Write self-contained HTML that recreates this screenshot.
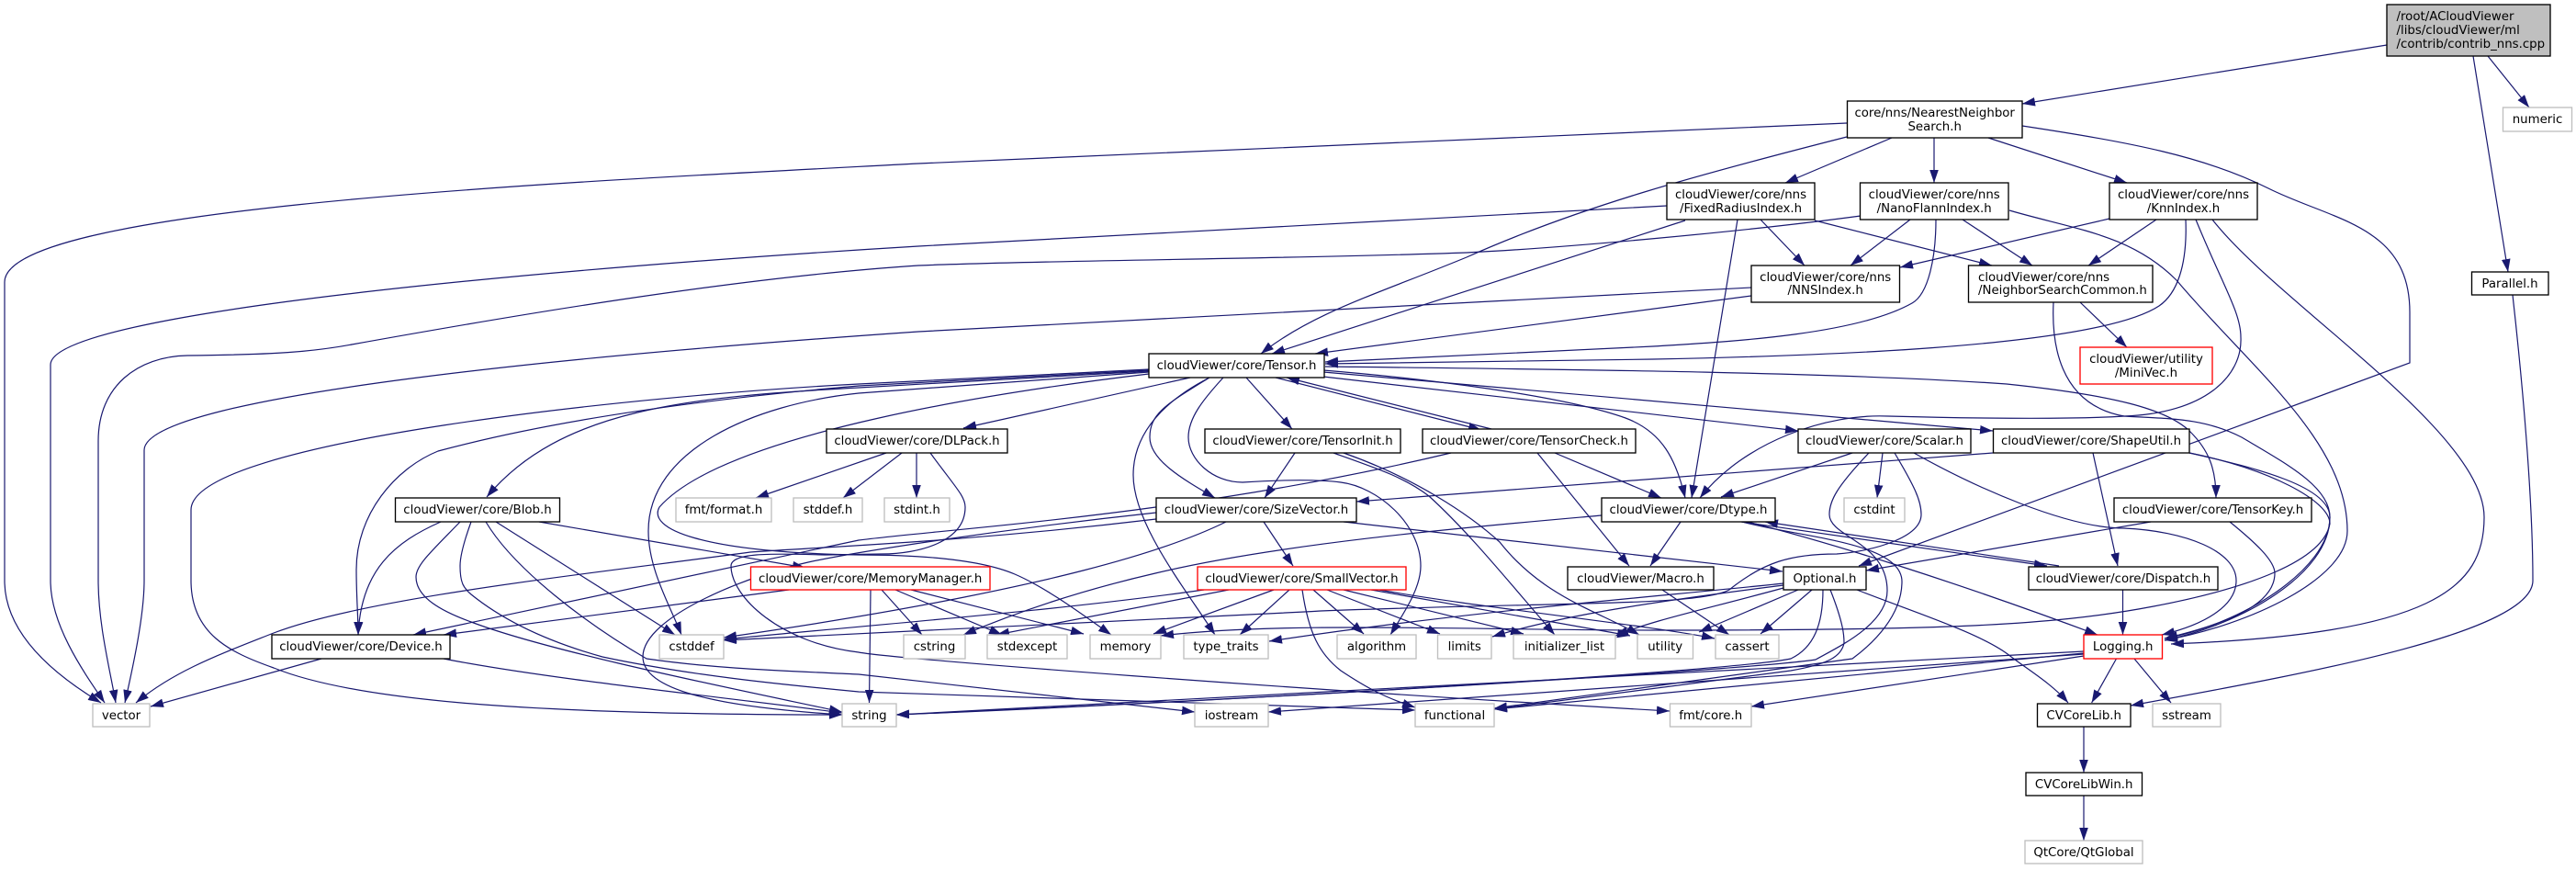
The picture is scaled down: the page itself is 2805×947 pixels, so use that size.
<!DOCTYPE html>
<html><head><meta charset="utf-8"><title>Include graph</title>
<style>
html,body{margin:0;padding:0;background:#fff;width:2805px;height:947px;overflow:hidden}
svg{display:block}
text{font-family:"DejaVu Sans",sans-serif;font-size:13.33px;fill:#000;text-anchor:middle}
text.l{text-anchor:start}
#e path{fill:none;stroke:#191970;stroke-width:1.2;marker-end:url(#a)}
rect{stroke-width:1.33;fill:#fff}
rect.b{stroke:#000}
rect.g{stroke:#bfbfbf}
rect.r{stroke:#f00}
</style></head><body>
<svg width="2805" height="947" viewBox="0 0 2805 947" xmlns="http://www.w3.org/2000/svg">
<defs><marker id="a" markerUnits="userSpaceOnUse" markerWidth="14" markerHeight="10" viewBox="0 0 14 10" refX="14" refY="5" orient="auto"><path d="M0,0.2L14,5L0,9.8z" fill="#191970"/></marker></defs>
<g id="e">
<path d="M2599,49L2202,113"/>
<path d="M2709,61L2754,117"/>
<path d="M2693,61L2731,296"/>
<path d="M2736,321C2746,410 2758,540 2758,632C2758,690 2500,735 2320,768"/>
<path d="M2011,134L1000,178C620,198 5,225 5,307L5,632C5,690 60,735 110,765"/>
<path d="M1815,224L1000,268C600,292 55,340 55,397L55,632C55,680 90,730 114,765"/>
<path d="M2026,235C1900,252 1700,270 1597,275C1400,282 1150,283 1000,289C800,302 550,345 383,375C340,383 300,386 204,387C150,388 107,420 107,480L107,632C107,680 120,730 126,765"/>
<path d="M1907,313L1000,361C650,385 157,430 157,490L157,632C157,670 145,725 136,765"/>
<path d="M1251,402L935,418C700,430 208,480 208,555L208,632C208,690 250,710 298,727C380,760 550,778 917,778"/>
<path d="M1251,403L935,420C760,435 600,458 477,491C430,510 388,560 388,620C388,650 390,670 390,691"/>
<path d="M1251,404L935,422C750,432 610,445 530,541"/>
<path d="M1251,405L935,428C820,440 706,490 706,578C706,620 730,660 742,691"/>
<path d="M1251,407C1100,425 790,470 718,552C705,575 760,601 935,604C1010,604 1070,610 1105,625C1140,640 1180,670 1210,691"/>
<path d="M1296,411L1049,466"/>
<path d="M1317,411C1270,435 1234,470 1234,517C1234,570 1290,640 1323,691"/>
<path d="M1317,411C1270,440 1252,450 1252,476C1252,500 1285,520 1323,542"/>
<path d="M1332,411C1310,435 1294,455 1294,476C1294,500 1320,525 1353,525C1400,522 1437,522 1460,525C1500,530 1547,570 1547,616C1547,640 1530,665 1514,691"/>
<path d="M1357,411L1407,467"/>
<path d="M1389,411L1613,468"/>
<path d="M1624,467L1401,411"/>
<path d="M1441,403C1550,412 1700,430 1770,455C1810,470 1825,500 1835,542"/>
<path d="M1441,410L1958,469"/>
<path d="M1441,405L2170,469"/>
<path d="M1443,399C1700,402 2000,405 2185,418C2300,430 2360,445 2385,470C2405,490 2413,510 2413,542"/>
<path d="M1907,322L1432,385"/>
<path d="M1835,240L1385,385"/>
<path d="M2011,149C1850,190 1720,225 1597,280C1500,320 1430,340 1373,385"/>
<path d="M2108,239C2108,280 2100,320 2082,330C2020,365 1880,372 1800,377L1443,394"/>
<path d="M2380,239C2382,290 2370,320 2351,333C2280,380 1950,388 1800,391L1443,396"/>
<path d="M2202,137C2320,155 2400,170 2470,205C2540,240 2624,245 2624,340L2624,395L2024,616"/>
<path d="M2060,150L1944,199"/>
<path d="M2106,150L2106,199"/>
<path d="M2165,150L2316,199"/>
<path d="M1917,239L1965,289"/>
<path d="M1976,240L2169,289"/>
<path d="M1892,239L1842,542"/>
<path d="M2080,239L2015,289"/>
<path d="M2137,239L2213,289"/>
<path d="M2297,238L2069,291"/>
<path d="M2348,239L2274,289"/>
<path d="M2265,329L2316,378"/>
<path d="M2236,329C2234,370 2240,440 2313,453C2365,456 2400,455 2441,476C2490,505 2537,530 2537,563C2537,620 2440,680 2357,695"/>
<path d="M2391,239C2420,310 2440,340 2440,367C2442,410 2400,450 2313,453C2250,457 2130,455 2056,453C1990,450 1900,480 1851,542"/>
<path d="M2188,229C2260,250 2320,255 2370,305C2450,400 2556,480 2556,578C2556,630 2450,680 2357,697"/>
<path d="M2409,239C2480,330 2705,470 2705,563C2705,640 2650,690 2364,701"/>
<path d="M2279,493L2306,616"/>
<path d="M2384,493C2460,510 2537,530 2537,563C2537,625 2440,680 2357,697"/>
<path d="M2384,493C2470,510 2537,545 2537,570C2530,610 2450,640 2345,660C2230,682 2100,686 1800,686C1600,686 1400,676 1264,692"/>
<path d="M2170,493L1477,546"/>
<path d="M2342,568L2032,621"/>
<path d="M2428,568C2455,590 2477,610 2477,624C2477,660 2420,680 2357,695"/>
<path d="M2311.5,642L2311.5,691"/>
<path d="M2242,616L1922,568"/>
<path d="M1896,568L2229,616"/>
<path d="M1903,568C1990,590 2120,630 2284,691"/>
<path d="M1830,568L1797,616"/>
<path d="M1744,561C1620,572 1400,590 1258,624C1180,642 1110,665 1049,691"/>
<path d="M1897,568C1960,585 2071,590 2071,633C2071,670 2040,700 2017,717L1627,771"/>
<path d="M2017,493L1874,541"/>
<path d="M2050,493L2044,542"/>
<path d="M2084,493C2150,530 2250,575 2313,575C2380,578 2435,600 2435,632C2435,660 2400,680 2354,691"/>
<path d="M2035,493C2000,530 1992,545 1992,560C1992,585 2055,590 2055,643C2055,680 2000,705 1977,718C1900,730 1300,765 976,778"/>
<path d="M2063,493C2085,530 2092,545 2092,560C2092,585 2040,600 2000,603C1950,603 1920,612 1883,642C1850,660 1700,655 1438,665C1359,670 1300,672 788,697"/>
<path d="M2022,642C2080,665 2160,690 2190,715C2210,730 2235,745 2252,765"/>
<path d="M1973,642L1917,690"/>
<path d="M1958,642L1850,688"/>
<path d="M1942,640C1850,665 1800,675 1759,692"/>
<path d="M1942,637C1800,655 1700,670 1625,693"/>
<path d="M1942,635C1800,650 1600,665 1382,698"/>
<path d="M1985,642C1985,680 1975,705 1950,717C1900,728 1500,755 976,778"/>
<path d="M1993,642C2008,680 2008,693 2008,700C2005,715 1990,723 1950,730L1627,772"/>
<path d="M1810,642L1883,691"/>
<path d="M1463,568L1941,622"/>
<path d="M1376,568L1408,616"/>
<path d="M1335,568C1250,610 1100,640 1050,650C950,670 850,685 788,694"/>
<path d="M1259,565C1050,590 900,595 817,601C640,625 400,650 298,689C240,712 190,730 148,765"/>
<path d="M1259,558C1100,575 935,600 880,612C820,625 700,670 700,715C700,750 775,769 917,778"/>
<path d="M1580,493C1300,560 1037,575 935,588L450,691"/>
<path d="M1410,493L1377,542"/>
<path d="M1452,493C1500,510 1530,520 1556,540C1600,580 1640,630 1693,691"/>
<path d="M1463,493C1540,520 1600,560 1633,590C1680,650 1740,665 1785,691"/>
<path d="M1674,493L1774,616"/>
<path d="M1693,493L1809,542"/>
<path d="M1387,642L1256,690"/>
<path d="M1404,642L1350,691"/>
<path d="M1418,642C1425,690 1437,712 1460,730C1490,750 1510,760 1541,770"/>
<path d="M1430,642L1485,690"/>
<path d="M1445,642L1568,690"/>
<path d="M1463,642L1659,690"/>
<path d="M1493,642L1775,692"/>
<path d="M1502,642C1600,660 1800,681 1867,695"/>
<path d="M1338,642L1085,691"/>
<path d="M1311,642C1150,665 950,680 788,696"/>
<path d="M948,642L946.5,765"/>
<path d="M960,642L1004,691"/>
<path d="M975,642L1091,691"/>
<path d="M992,642L1180,690"/>
<path d="M859,642L483,691"/>
<path d="M965,493L823,542"/>
<path d="M982,493L918,542"/>
<path d="M998,493L998,542"/>
<path d="M1013,493C1040,530 1051,540 1051,552C1051,590 1000,603 960,603L900,604C850,603 796,600 796,616C796,650 850,700 935,710C970,717 1400,750 1818,774"/>
<path d="M480,568C430,590 393,620 390,691"/>
<path d="M587,568L877,618"/>
<path d="M540,568L735,691"/>
<path d="M501,568C470,600 453,615 453,628C453,650 480,665 513,677C600,710 800,750 917,775"/>
<path d="M513,568C505,590 501,605 501,616C501,635 505,640 513,647C560,685 620,705 656,715C750,735 850,745 935,753L1541,773"/>
<path d="M529,568C560,620 640,680 704,717C780,728 850,730 935,734L1301,775"/>
<path d="M483,717C600,740 800,760 917,776"/>
<path d="M350,717L164,769"/>
<path d="M2269,709L976,778"/>
<path d="M2269,711L1627,772"/>
<path d="M2269,712L1381,775"/>
<path d="M2269,714L1907,769"/>
<path d="M2304.5,717L2277.6,765"/>
<path d="M2324,717L2364,765"/>
<path d="M2269,791L2269,841"/>
<path d="M2269,866L2269,915"/>
</g>
<g>
<rect class="b" x="2599" y="5" width="178" height="56" style="fill:#bfbfbf"/>
<text class="l" x="2609.5" y="22">/root/ACloudViewer</text><text class="l" x="2609.5" y="37">/libs/cloudViewer/ml</text><text class="l" x="2609.5" y="52">/contrib/contrib_nns.cpp</text>
<rect class="b" x="2011.5" y="110" width="190.5" height="40"/>
<text x="2106.7" y="127">core/nns/NearestNeighbor</text><text x="2106.7" y="142">Search.h</text>
<rect class="g" x="2725.5" y="117" width="75" height="26"/><text x="2763" y="134">numeric</text>
<rect class="b" x="1815" y="199" width="161" height="40"/>
<text x="1895.5" y="216">cloudViewer/core/nns</text><text x="1895.5" y="231">/FixedRadiusIndex.h</text>
<rect class="b" x="2025.5" y="199" width="161.5" height="40"/>
<text x="2106.2" y="216">cloudViewer/core/nns</text><text x="2106.2" y="231">/NanoFlannIndex.h</text>
<rect class="b" x="2297" y="199" width="161" height="40"/>
<text x="2377.5" y="216">cloudViewer/core/nns</text><text x="2377.5" y="231">/KnnIndex.h</text>
<rect class="b" x="1907" y="289" width="161.5" height="40"/>
<text x="1987.7" y="306">cloudViewer/core/nns</text><text x="1987.7" y="320">/NNSIndex.h</text>
<rect class="b" x="2143.5" y="289" width="200.5" height="40"/>
<text class="l" x="2154" y="306">cloudViewer/core/nns</text><text class="l" x="2154" y="320">/NeighborSearchCommon.h</text>
<rect class="b" x="2691.5" y="296" width="83.5" height="25"/><text x="2733" y="313">Parallel.h</text>
<rect class="r" x="2265" y="378" width="144" height="40"/>
<text x="2337" y="395">cloudViewer/utility</text><text x="2337" y="410">/MiniVec.h</text>
<rect class="b" x="1251" y="385" width="191" height="26"/><text x="1346.5" y="402">cloudViewer/core/Tensor.h</text>
<rect class="b" x="900" y="467" width="197" height="26"/><text x="998.5" y="484">cloudViewer/core/DLPack.h</text>
<rect class="b" x="1312" y="467" width="213" height="26"/><text x="1418.5" y="484">cloudViewer/core/TensorInit.h</text>
<rect class="b" x="1549" y="467" width="232" height="26"/><text x="1665" y="484">cloudViewer/core/TensorCheck.h</text>
<rect class="b" x="1958" y="467" width="188" height="26"/><text x="2052" y="484">cloudViewer/core/Scalar.h</text>
<rect class="b" x="2170.5" y="467" width="213.5" height="26"/><text x="2277" y="484">cloudViewer/core/ShapeUtil.h</text>
<rect class="b" x="430.5" y="542" width="179" height="26"/><text x="520" y="559">cloudViewer/core/Blob.h</text>
<rect class="g" x="736" y="542" width="104" height="26"/><text x="788" y="559">fmt/format.h</text>
<rect class="g" x="864" y="542" width="75" height="26"/><text x="901.5" y="559">stddef.h</text>
<rect class="g" x="963" y="542" width="71" height="26"/><text x="998.5" y="559">stdint.h</text>
<rect class="b" x="1259" y="542" width="218" height="26"/><text x="1368" y="559">cloudViewer/core/SizeVector.h</text>
<rect class="b" x="1744" y="542" width="189" height="26"/><text x="1838.5" y="559">cloudViewer/core/Dtype.h</text>
<rect class="g" x="2008" y="542" width="66" height="26"/><text x="2041" y="559">cstdint</text>
<rect class="b" x="2302" y="542" width="215" height="26"/><text x="2409.5" y="559">cloudViewer/core/TensorKey.h</text>
<rect class="r" x="817.5" y="617" width="260.5" height="25"/><text x="947.7" y="634">cloudViewer/core/MemoryManager.h</text>
<rect class="r" x="1304" y="617" width="227" height="25"/><text x="1417.5" y="634">cloudViewer/core/SmallVector.h</text>
<rect class="b" x="1707" y="617" width="159" height="25"/><text x="1786.5" y="634">cloudViewer/Macro.h</text>
<rect class="b" x="1942" y="617" width="90" height="25"/><text x="1987" y="634">Optional.h</text>
<rect class="b" x="2209" y="617" width="206" height="25"/><text x="2312" y="634">cloudViewer/core/Dispatch.h</text>
<rect class="b" x="296" y="691" width="194" height="26"/><text x="393" y="708">cloudViewer/core/Device.h</text>
<rect class="g" x="718" y="691" width="70" height="26"/><text x="753" y="708">cstddef</text>
<rect class="g" x="984" y="691" width="67" height="26"/><text x="1017.5" y="708">cstring</text>
<rect class="g" x="1075" y="691" width="87" height="26"/><text x="1118.5" y="708">stdexcept</text>
<rect class="g" x="1187" y="691" width="77" height="26"/><text x="1225.5" y="708">memory</text>
<rect class="g" x="1289" y="691" width="92" height="26"/><text x="1335" y="708">type_traits</text>
<rect class="g" x="1456" y="691" width="86" height="26"/><text x="1499" y="708">algorithm</text>
<rect class="g" x="1565.5" y="691" width="58.5" height="26"/><text x="1594.7" y="708">limits</text>
<rect class="g" x="1648" y="691" width="111" height="26"/><text x="1703.5" y="708">initializer_list</text>
<rect class="g" x="1783" y="691" width="60.5" height="26"/><text x="1813.2" y="708">utility</text>
<rect class="g" x="1868" y="691" width="69" height="26"/><text x="1902.5" y="708">cassert</text>
<rect class="r" x="2269" y="691" width="85.5" height="26"/><text x="2311.7" y="708">Logging.h</text>
<rect class="g" x="101" y="766" width="62" height="25"/><text x="132" y="783">vector</text>
<rect class="g" x="917" y="766" width="59" height="25"/><text x="946.5" y="783">string</text>
<rect class="g" x="1301" y="766" width="80" height="25"/><text x="1341" y="783">iostream</text>
<rect class="g" x="1541" y="766" width="86" height="25"/><text x="1584" y="783">functional</text>
<rect class="g" x="1818.5" y="766" width="88.5" height="25"/><text x="1862.7" y="783">fmt/core.h</text>
<rect class="b" x="2218.5" y="766" width="101.5" height="25"/><text x="2269.2" y="783">CVCoreLib.h</text>
<rect class="g" x="2344" y="766" width="74" height="25"/><text x="2381" y="783">sstream</text>
<rect class="b" x="2206" y="841" width="126.5" height="25"/><text x="2269.2" y="858">CVCoreLibWin.h</text>
<rect class="g" x="2205" y="915" width="128" height="25"/><text x="2269" y="932">QtCore/QtGlobal</text>
</g>
</svg>
</body></html>
